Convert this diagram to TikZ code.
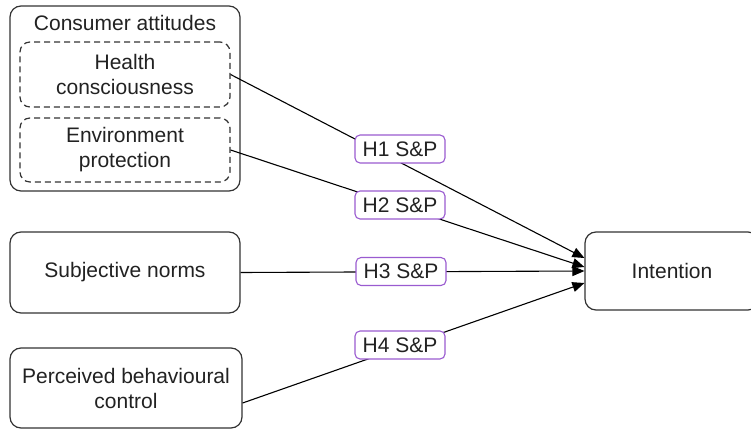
\documentclass[tikz,border=0pt]{standalone}
\usepackage{fontspec}
\setmainfont{Liberation Sans}
\usepackage{tikz}
\usetikzlibrary{positioning,calc,arrows.meta}
\definecolor{ink}{HTML}{222222}
\definecolor{edge}{HTML}{333333}
\definecolor{hyp}{HTML}{9A5BD0}
\tikzset{
  box/.style    ={draw=edge, rounded corners=11pt, align=center, text=ink,
                  font=\fontsize{21}{25}\selectfont, line width=1.2pt, fill=white},
  % sub-constructs inside the attitudes group
  subbox/.style ={box, dashed, dash pattern=on 6pt off 4pt, rounded corners=10pt},
  hlabel/.style ={draw=hyp, rounded corners=5pt, fill=white, text=ink,
                  minimum width=90pt, minimum height=28pt, inner sep=0pt,
                  font=\fontsize{21}{25}\selectfont, line width=1.1pt},
  link/.style   ={-{Triangle[length=12pt,width=10pt]}, black, line width=1.1pt},
}

\begin{document}
\begin{tikzpicture}[x=1pt,y=-1pt]
    \useasboundingbox (0,0) rectangle (751,430);
    \node[box, minimum width=230pt, minimum height=185pt] (CA) at (125,98.5) {};
    \node[font=\fontsize{21}{25}\selectfont, text=ink] (CAt) at (125,23) {Consumer attitudes};
    \node[subbox, minimum width=210pt, minimum height=65pt] (HC) at (125,74.5) {Health\\consciousness};
    \node[subbox, minimum width=210pt, minimum height=64pt] (EP) at (125,150) {Environment\\protection};
    \node[box, minimum width=230pt, minimum height=81pt] (SN) at (125,272.5) {Subjective norms};
    \node[box, minimum width=232pt, minimum height=80pt] (PBC) at (126,388) {Perceived behavioural\\control};
    \node[box, minimum width=174pt, minimum height=78pt] (INT) at (672,271) {Intention};
    \coordinate (PBCout) at ($(PBC.east)+(0,15)$);
    \draw[link] (HC.east) -- ($(INT.west)+(0,-13)$);
    \draw[link] (EP.east) -- ($(INT.west)+(0,-4)$);
    \draw[link] (SN.east) -- (INT.west);
    \draw[link] (PBCout) -- ($(INT.west)+(0,12)$);
    \node[hlabel] (H1) at (400,149) {H1 S\&P};
    \node[hlabel] (H2) at (400,205) {H2 S\&P};
    \node[hlabel] (H3) at (401,271.5) {H3 S\&P};
    \node[hlabel] (H4) at (400,345) {H4 S\&P};
  \end{tikzpicture}
\end{document}
